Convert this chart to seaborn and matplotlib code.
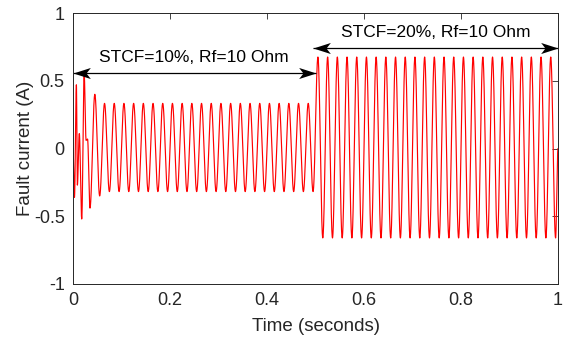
import numpy as np
import pandas as pd
import matplotlib
matplotlib.use("Agg")
import matplotlib.pyplot as plt
from matplotlib.path import Path
from matplotlib.transforms import Affine2D
import seaborn as sns

# ---------------- data ----------------
time_ticks = [0, 0.2, 0.4, 0.6, 0.8, 1]
current_ticks = [-1, -0.5, 0, 0.5, 1]
time_tick_labels = ["0", "0.2", "0.4", "0.6", "0.8", "1"]
current_tick_labels = ["-1", "-0.5", "0", "0.5", "1"]
x_label = "Time (seconds)"
y_label = "Fault current (A)"

# start-up transient: successive extrema (time s, current A)
transient_t = [0.000, 0.003, 0.007, 0.009, 0.013, 0.018, 0.023, 0.027, 0.030, 0.035, 0.045, 0.055]
transient_i = [0.00, -0.36, 0.47, -0.27, 0.11, -0.52, 0.55, 0.06, 0.07, -0.44, 0.40, -0.35]

# steady-state segments (50 Hz): first peak time, last extremum time, peak and trough values
period_s = 0.02
seg_first_peak_t = [0.065, 0.505]
seg_last_t = [0.495, 0.995]
seg_peak = [0.333, 0.675]
seg_trough = [-0.318, -0.660]
end_t = 1.0
end_i = 0.0

# annotations
annot_texts = ["STCF=10%, Rf=10 Ohm", "STCF=20%, Rf=10 Ohm"]
annot_x0 = [0.0, 0.495]
annot_x1 = [0.5, 1.0]
annot_arrow_y = [0.56, 0.745]
annot_text_y = [0.675, 0.855]

# ---------------- build waveform through the extrema ----------------
ext_t = list(transient_t)
ext_v = list(transient_i)
for t0, t1, pk, tr in zip(seg_first_peak_t, seg_last_t, seg_peak, seg_trough):
    ts = np.arange(t0, t1 + 1e-9, period_s / 2)
    for k, t in enumerate(ts):
        ext_t.append(float(t))
        ext_v.append(pk if k % 2 == 0 else tr)
ext_t.append(end_t)
ext_v.append(end_i)

tt, vv = [], []
for (ta, va), (tb, vb) in zip(zip(ext_t[:-1], ext_v[:-1]), zip(ext_t[1:], ext_v[1:])):
    n = max(int((tb - ta) / 0.0001), 2)
    s = np.linspace(0, 1, n, endpoint=False)
    tt.append(ta + (tb - ta) * s)
    vv.append(va + (vb - va) * (1 - np.cos(np.pi * s)) / 2)
tt.append(np.array([end_t]))
vv.append(np.array([end_i]))
df = pd.DataFrame({"t": np.concatenate(tt), "i": np.concatenate(vv)})

# ---------------- plot ----------------
sns.set_theme(style="white")
plt.rcParams["font.family"] = ["Liberation Sans", "DejaVu Sans"]

fig = plt.figure(figsize=(5.71, 3.39), dpi=100)
ax = fig.add_axes([73 / 571, 1 - 284 / 339, 485 / 571, 271 / 339])

sns.lineplot(data=df, x="t", y="i", color="red", linewidth=0.85,
             estimator=None, sort=False, ax=ax)

ax.set_xlim(0, 1)
ax.set_ylim(-1, 1)
ax.set_xticks(time_ticks)
ax.set_xticklabels(time_tick_labels)
ax.set_yticks(current_ticks)
ax.set_yticklabels(current_tick_labels)
ax.set_xlabel(x_label, fontsize=13.5, color="#262626", labelpad=6)
ax.set_ylabel(y_label, fontsize=13.5, color="#262626", labelpad=0)
ax.tick_params(direction="in", top=True, right=True, length=4, width=0.6,
               colors="#262626", labelsize=13, pad=6)
for sp in ax.spines.values():
    sp.set_visible(True)
    sp.set_color("#262626")
    sp.set_linewidth(0.7)

# concave (MATLAB-style) arrow head marker, tip at origin pointing right
head = Path([(0, 0), (-1, 0.32), (-0.75, 0), (-1, -0.32), (0, 0)],
            [Path.MOVETO, Path.LINETO, Path.LINETO, Path.LINETO, Path.CLOSEPOLY])
head_left = head.transformed(Affine2D().rotate_deg(180))

for txt, x0, x1, ya, yt in zip(annot_texts, annot_x0, annot_x1, annot_arrow_y, annot_text_y):
    ax.plot([x0, x1], [ya, ya], color="black", lw=0.9, clip_on=False,
            solid_capstyle="butt")
    ax.plot([x1], [ya], marker=head, markersize=25, color="black",
            markeredgewidth=0, linestyle="none", clip_on=False)
    ax.plot([x0], [ya], marker=head_left, markersize=25, color="black",
            markeredgewidth=0, linestyle="none", clip_on=False)
    ax.text((x0 + x1) / 2, yt, txt, ha="center", va="center", fontsize=12.5, color="black")

fig.savefig("out.png", dpi=100)
